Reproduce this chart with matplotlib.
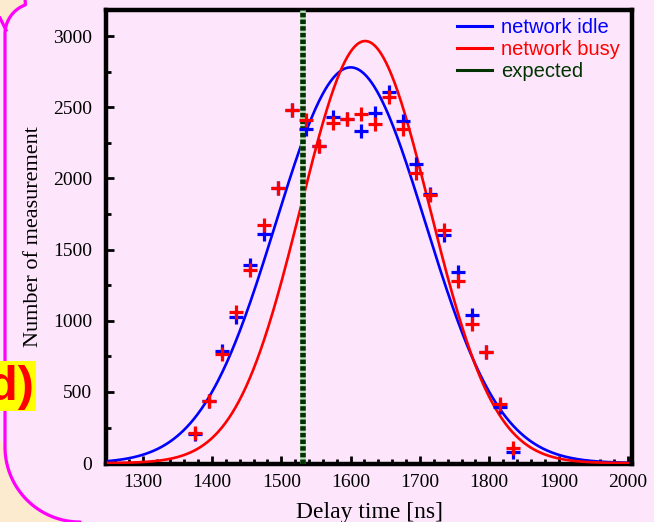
import numpy as np
import matplotlib
matplotlib.use("Agg")
import matplotlib.pyplot as plt
from matplotlib.lines import Line2D
from matplotlib.patches import PathPatch, Rectangle
from matplotlib.path import Path
from matplotlib.ticker import MultipleLocator
import matplotlib.transforms as mtrans

# measured histogram points (delay bins in ns, counts)
delay = [1375, 1395, 1415, 1435, 1455, 1475, 1495, 1515, 1535, 1555, 1575, 1595,
         1615, 1635, 1655, 1675, 1695, 1715, 1735, 1755, 1775, 1795, 1815, 1835]
idle = [205, 440, 790, 1030, 1390, 1610, 1930, 2480, 2350, 2230, 2430, 2420,
        2330, 2460, 2610, 2400, 2100, 1890, 1600, 1340, 1040, 780, 395, 80]
busy = [210, 440, 765, 1060, 1355, 1670, 1930, 2480, 2410, 2230, 2390, 2420,
        2450, 2385, 2570, 2350, 2035, 1885, 1640, 1280, 980, 780, 415, 108]

# gaussian fit parameters (amplitude, centre, sigma)
idle_fit = (2780, 1600, 108)
busy_fit = (2965, 1621, 93)
expected = 1531

labels = ["network idle", "network busy", "expected"]

BLUE = "#0000ff"
RED = "#ff0000"
GREEN = "#003300"
PINK = "#fde6fb"
BEIGE = "#fdebcf"
MAGENTA = "#ff00ff"

W, H = 654, 522
SERIF = ["Liberation Serif", "DejaVu Serif"]
SANS = ["Liberation Sans", "DejaVu Sans"]


def gauss(x, p):
    a, mu, s = p
    return a * np.exp(-(x - mu) ** 2 / (2 * s ** 2))


def arc_pts(cx, cy, r, a0, a1, n=40):
    t = np.radians(np.linspace(a0, a1, n))
    return np.column_stack([cx + r * np.cos(t), cy + r * np.sin(t)])


fig = plt.figure(figsize=(W / 100, H / 100), dpi=100, facecolor=PINK)

# pixel coordinates (y down) -> figure
px = mtrans.Affine2D().scale(1 / W, -1 / H).translate(0, 1) + fig.transFigure

# —— decorative bubble border on the left ——
# top-left corner: arc centre (36, 34), r = 31 ; bottom-left: centre (80, 447), r = 75
top_arc = arc_pts(36, 34, 31, 180, 250)      # from (5,34) up towards the top edge
top_arc = np.vstack([top_arc, [[25, -3]]])
bot_arc = arc_pts(80, 447, 75, 180, 90)      # from (5,447) down to (80,522)

top_fill = np.vstack([[[0, -3]], top_arc[::-1], [[6, 30], [0, 18]]])
fig.add_artist(plt.Polygon(top_fill, closed=True, facecolor=BEIGE,
                           edgecolor="none", transform=px, zorder=-2))
bot_fill = np.vstack([[[0, 440]], bot_arc, [[80, 525], [0, 525]]])
fig.add_artist(plt.Polygon(bot_fill, closed=True, facecolor=BEIGE,
                           edgecolor="none", transform=px, zorder=-2))

border = np.vstack([top_arc[::-1], bot_arc, [[80, 525]]])
fig.add_artist(Line2D(border[:, 0], border[:, 1], color=MAGENTA, linewidth=2.3,
                      transform=px, zorder=-1, solid_capstyle="butt"))
fig.add_artist(Line2D([0, 6], [18, 30], color=MAGENTA, linewidth=2.3,
                      transform=px, zorder=-1))

# "d)" panel tag
fig.add_artist(Rectangle((0, 361), 36, 50, facecolor="#ffff00",
                         edgecolor="none", transform=px, zorder=1))
fig.text(34 / W, 1 - 388 / H, "d)", color=RED, fontsize=35, fontweight="bold",
         family=SANS, ha="right", va="center", zorder=2)

# —— main axes ——
ax = fig.add_axes([106 / W, 1 - 464 / H, (632 - 106) / W, (464 - 10) / H])
ax.set_facecolor("none")

xs = np.linspace(1250, 2000, 600)
ax.plot(xs, gauss(xs, idle_fit), color=BLUE, linewidth=1.9, zorder=3)
ax.plot(xs, gauss(xs, busy_fit), color=RED, linewidth=1.9, zorder=3.1)

ax.axvline(expected, color="#b9dcb9", linewidth=4, zorder=3.2)
ax.axvline(expected, color=GREEN, linewidth=4, linestyle=(0, (0.8, 0.4)),
           zorder=3.3)

ax.plot(delay, idle, linestyle="none", marker="+", markersize=10,
        markeredgewidth=2.3, color=BLUE, zorder=4)
ax.plot(delay, busy, linestyle="none", marker="+", markersize=10,
        markeredgewidth=2.3, color=RED, zorder=4.1)

ax.set_xlim(1247, 2006)
ax.set_ylim(-6, 3183)
ax.xaxis.set_major_locator(MultipleLocator(100))
ax.xaxis.set_minor_locator(MultipleLocator(20))
ax.yaxis.set_major_locator(MultipleLocator(500))
ax.yaxis.set_minor_locator(MultipleLocator(250))
ax.tick_params(which="both", direction="in", top=False, right=False,
               color="black")
ax.tick_params(which="major", length=6, width=2)
ax.tick_params(which="minor", length=3.5, width=2)
ax.tick_params(axis="x", which="major", pad=7)
ax.tick_params(axis="y", which="major", pad=10)
for lab in ax.get_xticklabels() + ax.get_yticklabels():
    lab.set_family(SERIF)
    lab.set_fontsize(14)
for sp in ax.spines.values():
    sp.set_linewidth(3.2)

ax.set_xlabel("Delay time [ns]", family=SERIF, fontsize=17, labelpad=8)
ax.set_ylabel("Number of measurement", family=SERIF, fontsize=16, labelpad=7)

handles = [Line2D([], [], color=BLUE, linewidth=2.2),
           Line2D([], [], color=RED, linewidth=2.2),
           Line2D([], [], color=GREEN, linewidth=2.2)]
leg = ax.legend(handles, labels, loc="upper left",
                bbox_to_anchor=(457 / W, 1 - 18 / H), bbox_transform=fig.transFigure,
                frameon=False, borderpad=0, borderaxespad=0,
                handlelength=1.75, handletextpad=0.45, labelspacing=0.15,
                prop={"family": SANS, "size": 14.5})
for txt, c in zip(leg.get_texts(), [BLUE, RED, GREEN]):
    txt.set_color(c)

fig.savefig("out.png", dpi=100, facecolor=PINK)
